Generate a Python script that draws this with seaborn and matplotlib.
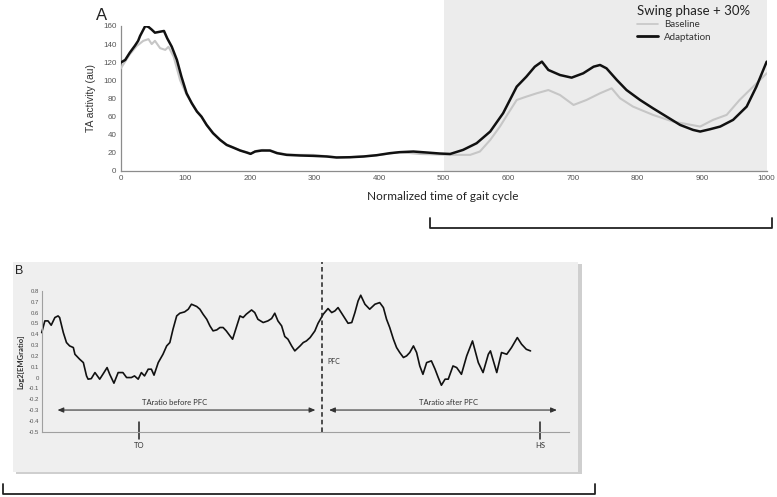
import numpy as np
import pandas as pd
import matplotlib
matplotlib.use("Agg")
import matplotlib.pyplot as plt
import matplotlib.transforms as mtransforms
from matplotlib.patches import Rectangle
from matplotlib.lines import Line2D
import seaborn as sns

# Panel A - TA activity over the normalized gait cycle
adapt_x = [0, 7, 14, 22, 27, 30, 38, 43, 48, 53, 61, 67, 72, 79, 87, 94, 102, 110, 118, 125,
           133, 143, 154, 164, 174, 185, 195, 201, 208, 218, 231, 242, 257, 278, 298, 319, 334,
           355, 376, 396, 417, 432, 453, 474, 494, 510, 530, 551, 572, 592, 613, 628, 641, 652,
           662, 680, 698, 716, 732, 742, 752, 768, 783, 804, 824, 845, 866, 886, 897, 912, 928,
           948, 969, 984, 1000]
adapt_y = [119.5, 122.5, 130.4, 138.2, 143.6, 149, 160, 159, 156, 152.6, 153.7, 154.5, 146.4,
           137.2, 122.5, 104, 85.6, 74.6, 65.4, 59.8, 50.6, 41.4, 34, 28.5, 25.6, 22.3, 20.1, 18.6,
           21.2, 22.3, 22.3, 19.4, 17.5, 16.8, 16.4, 15.7, 14.6, 14.9, 15.7, 17.1, 19.4, 20.5, 21.2,
           20.1, 19, 18.5, 23, 30.4, 43.3, 63.6, 92.9, 104, 115, 120.6, 111.4, 105.8, 102.9, 107.7,
           115, 116.9, 113.2, 100.3, 89.2, 78.2, 69, 59.8, 50.6, 45.1, 43.3, 45.8, 48.8, 56.2, 70.9,
           92.9, 120.6]

base_x = [0, 14, 25, 35, 43, 48, 53, 61, 69, 74, 82, 92, 102, 110, 118, 125, 133, 143, 154, 164,
          174, 185, 195, 202, 210, 220, 232, 242, 257, 278, 298, 319, 334, 355, 376, 396, 417, 432,
          463, 510, 541, 556, 572, 587, 600, 613, 628, 644, 662, 680, 701, 721, 742, 760, 773, 793,
          824, 855, 876, 897, 917, 938, 958, 979, 1000]
base_y = [113, 128.6, 138, 143.6, 145.5, 140, 143.6, 135.5, 133.6, 137, 126, 100, 84, 75, 66, 60,
          51, 42, 34, 29, 26, 22.5, 20.5, 19, 22, 23, 22.5, 20, 18, 17.5, 17.5, 16, 15, 15, 16, 17,
          19, 20.5, 18.5, 17.5, 17.5, 21.2, 34, 48.8, 63.6, 78.2, 81.9, 85.6, 89.2, 83.7, 72.7, 78.2,
          85.6, 91.1, 80.1, 70.9, 61.7, 54.3, 51.6, 48.8, 56.2, 61.7, 78.2, 92.9, 107.7]

a_xticks = [0, 100, 200, 300, 400, 500, 600, 700, 800, 900, 1000]
a_yticks = [0, 20, 40, 60, 80, 100, 120, 140, 160]
swing_span = [500, 1000]

# Panel B - log2 EMG ratio (x in % of the shown window)
b_x = [0, 0.6, 1.2, 1.8, 2.5, 3.1, 3.4, 4.1, 4.7, 5.3, 6.0, 6.3, 7.2, 7.9, 8.5, 8.8, 9.4, 10.1,
       11.0, 11.6, 12.4, 12.9, 13.7, 14.5, 15.4, 16.1, 17.0, 17.6, 18.3, 18.9, 19.5, 20.2, 20.8,
       21.3, 22.1, 23.0, 23.7, 24.3, 24.9, 25.6, 26.2, 27.1, 27.8, 28.4, 29.4, 30.0, 30.6, 31.3,
       31.9, 32.5, 33.2, 33.8, 34.4, 35.0, 35.7, 36.2, 36.9, 37.6, 38.2, 38.8, 39.8, 40.4, 41.0,
       42.0, 42.9, 43.6, 44.2, 44.8, 45.5, 46.1, 46.7, 47.4, 48.0, 49.0, 49.6, 50.2, 50.9, 51.8,
       52.4, 53.4, 54.3, 55.0, 55.6, 56.2, 57.2, 58.1, 58.8, 59.4, 60.0, 60.5, 61.3, 62.2, 63.2,
       64.1, 64.8, 65.4, 66.0, 66.7, 67.3, 67.9, 68.6, 69.2, 69.8, 70.5, 71.1, 71.7, 72.3, 73.0,
       73.9, 74.6, 75.2, 75.8, 76.5, 77.1, 78.0, 78.7, 79.6, 80.6, 81.7, 82.8, 83.7, 84.7, 85.1,
       86.3, 87.2, 88.2, 89.1, 90.2, 91.0, 91.9, 92.7]
b_ratio = [0.415, 0.523, 0.523, 0.483, 0.554, 0.569, 0.554, 0.415, 0.323, 0.292, 0.277, 0.215,
           0.169, 0.138, 0.015, -0.015, -0.01, 0.046, -0.015, 0.03, 0.092, 0.03, -0.052, 0.046,
           0.046, 0.0, 0.0, 0.015, -0.015, 0.046, 0.015, 0.077, 0.077, 0.022, 0.138, 0.215, 0.292,
           0.323, 0.446, 0.569, 0.594, 0.606, 0.631, 0.677, 0.656, 0.631, 0.585, 0.538, 0.477,
           0.431, 0.44, 0.462, 0.462, 0.431, 0.385, 0.354, 0.462, 0.569, 0.554, 0.585, 0.624, 0.6,
           0.538, 0.508, 0.523, 0.545, 0.594, 0.523, 0.477, 0.379, 0.354, 0.292, 0.246, 0.292,
           0.323, 0.338, 0.369, 0.43, 0.5, 0.585, 0.637, 0.6, 0.615, 0.646, 0.569, 0.501, 0.508,
           0.6, 0.707, 0.76, 0.677, 0.631, 0.677, 0.692, 0.646, 0.538, 0.462, 0.354, 0.277, 0.231,
           0.185, 0.2, 0.231, 0.292, 0.231, 0.107, 0.03, 0.138, 0.154, 0.077, 0.0, -0.071, -0.015,
           -0.015, 0.107, 0.092, 0.03, 0.2, 0.338, 0.138, 0.046, 0.215, 0.246, 0.046, 0.231, 0.215,
           0.277, 0.369, 0.308, 0.261, 0.246]
b_yticks = [0.8, 0.7, 0.6, 0.5, 0.4, 0.3, 0.2, 0.1, 0, -0.1, -0.2, -0.3, -0.4, -0.5]
b_yticklabels = ["0.8", "0.7", "0.6", "0.5", "0.4", "0.3", "0.2", "0.1", "0",
                 "-0.1", "-0.2", "-0.3", "-0.4", "-0.5"]
pfc_pos = 53.2
to_pos = 18.5
hs_pos = 94.5
before_span = [3.0, 51.9]
after_span = [54.5, 97.7]

W, H = 777, 497


def fx(px):
    return px / W


def fy(py):
    return 1 - py / H


sns.set_style("white")
plt.rcParams["font.family"] = ["Liberation Sans", "DejaVu Sans"]
fig = plt.figure(figsize=(W / 100, H / 100), dpi=100)

axis_col = "#8c8c8c"
tick_col = "#555555"

# ---------------- Panel A ----------------
ax = fig.add_axes([fx(120.7), fy(170.7), fx(766.7) - fx(120.7), fy(26) - fy(170.7)])
ax.patch.set_alpha(0)

df_base = pd.DataFrame({"x": base_x, "y": base_y})
df_adapt = pd.DataFrame({"x": adapt_x, "y": adapt_y})
sns.lineplot(data=df_base, x="x", y="y", ax=ax, color="#c6c6c6", lw=1.5, label="Baseline", zorder=3)
sns.lineplot(data=df_adapt, x="x", y="y", ax=ax, color="#111111", lw=1.8, label="Adaptation", zorder=4)

trans = mtransforms.blended_transform_factory(ax.transData, fig.transFigure)
ax.add_patch(Rectangle((swing_span[0], fy(170.7)), swing_span[1] - swing_span[0], 1 - fy(170.7),
                       transform=trans, facecolor="#ececec", edgecolor="none", zorder=0, clip_on=False))

ax.set_xlim(0, 1000)
ax.set_ylim(0, 160)
ax.set_xticks(a_xticks)
ax.set_yticks(a_yticks)
ax.tick_params(direction="in", length=4, width=0.8, colors=axis_col, labelsize=5.8,
               labelcolor=tick_col, pad=3)
for s in ["top", "right"]:
    ax.spines[s].set_visible(False)
for s in ["left", "bottom"]:
    ax.spines[s].set_color(axis_col)
    ax.spines[s].set_linewidth(0.9)
ax.set_xlabel("")
ax.set_ylabel("TA activity (au)", fontsize=7.5, color="#333333", labelpad=5)
fig.text(fx(443), fy(197), "Normalized time of gait cycle", ha="center", va="center",
         fontsize=8.5, family=["Lato", "DejaVu Sans"], color="#222222")
fig.text(fx(96), fy(15), "A", ha="left", va="center", fontsize=12, color="#222222")

leg = ax.legend(title="Swing phase + 30%", loc="upper left",
                bbox_to_anchor=(fx(637), fy(5)), bbox_transform=fig.transFigure,
                frameon=False, fontsize=7, title_fontsize=9.5, handlelength=2.2,
                handletextpad=0.6, borderpad=0, borderaxespad=0, labelspacing=0.35,
                alignment="left", prop={"family": ["Lato", "DejaVu Sans"], "size": 7})
leg.get_title().set_family(["Lato", "DejaVu Sans"])
leg.get_title().set_color("#222222")
for t in leg.get_texts():
    t.set_color("#333333")
leg.legend_handles[0].set_linewidth(1.2)
leg.legend_handles[1].set_linewidth(2.0)

# bracket under panel A
fig.add_artist(Line2D([fx(430), fx(430), fx(772), fx(772)], [fy(218), fy(228), fy(228), fy(218)],
                      color="#222222", lw=1.3))

# ---------------- Panel B ----------------
fig.add_artist(Rectangle((fx(16), fy(473.5)), fx(581.5) - fx(16), fy(264) - fy(473.5),
                         transform=fig.transFigure, facecolor="#cfcfcf", edgecolor="none", zorder=-2))
fig.add_artist(Rectangle((fx(12.7), fy(472.3)), fx(578) - fx(12.7), fy(262) - fy(472.3),
                         transform=fig.transFigure, facecolor="#efefef", edgecolor="none", zorder=-1))

bx = fig.add_axes([fx(41.7), fy(431.7), fx(569) - fx(41.7), fy(290.9) - fy(431.7)])
bx.patch.set_alpha(0)
df_b = pd.DataFrame({"x": b_x, "ratio": b_ratio})
sns.lineplot(data=df_b, x="x", y="ratio", ax=bx, color="#111111", lw=1.2, clip_on=False)
bx.set_xlim(0, 100)
bx.set_ylim(-0.5, 0.8)
bx.set_xticks([])
bx.set_yticks(b_yticks)
bx.set_yticklabels(b_yticklabels)
bx.tick_params(axis="y", direction="in", length=3, width=0.6, colors=axis_col, labelsize=4.3,
               labelcolor=tick_col, pad=2)
for s in ["top", "right"]:
    bx.spines[s].set_visible(False)
for s in ["left", "bottom"]:
    bx.spines[s].set_color("#a0a0a0")
    bx.spines[s].set_linewidth(0.8)
bx.set_xlabel("")
bx.set_ylabel("Log2[EMGratio]", fontsize=5.5, color="#333333", labelpad=3,
              family=["Lato", "DejaVu Sans"], fontweight="bold")
fig.text(fx(15), fy(271), "B", ha="left", va="center", fontsize=9, color="#222222")

# PFC dashed line
bx.plot([pfc_pos, pfc_pos], [-0.5, 1.07], ls=(0, (3, 2)), color="#222222", lw=1.1, clip_on=False)
bx.text(pfc_pos + 1.0, 0.144, "PFC", fontsize=5, ha="left", va="center", color="#333333",
        family=["Lato", "DejaVu Sans"])

# ratio arrows
arrow_kw = dict(arrowstyle="<|-|>,head_length=0.35,head_width=0.15", color="#333333", lw=0.8,
                shrinkA=0, shrinkB=0)
bx.annotate("", xy=(before_span[0], -0.3), xytext=(before_span[1], -0.3), arrowprops=arrow_kw)
bx.annotate("", xy=(after_span[0], -0.3), xytext=(after_span[1], -0.3), arrowprops=arrow_kw,
            annotation_clip=False)
bx.text(sum(before_span) / 2 - 2.3, -0.228, "TAratio before PFC", fontsize=5.5, ha="center",
        va="center", color="#333333", family=["Lato", "DejaVu Sans"])
bx.text(sum(after_span) / 2 + 1.1, -0.228, "TAratio after PFC", fontsize=5.5, ha="center",
        va="center", color="#333333", family=["Lato", "DejaVu Sans"])

# gait events
for pos, lab in [(to_pos, "TO"), (hs_pos, "HS")]:
    bx.plot([pos, pos], [-0.41, -0.57], color="#222222", lw=1.1, clip_on=False)
    bx.text(pos, -0.63, lab, fontsize=5.5, ha="center", va="center", color="#333333",
            family=["Lato", "DejaVu Sans"])

# bracket under panel B
fig.add_artist(Line2D([fx(3), fx(3), fx(595), fx(595)], [fy(484), fy(494), fy(494), fy(484)],
                      color="#222222", lw=1.3))

fig.savefig("out.png", dpi=100)
